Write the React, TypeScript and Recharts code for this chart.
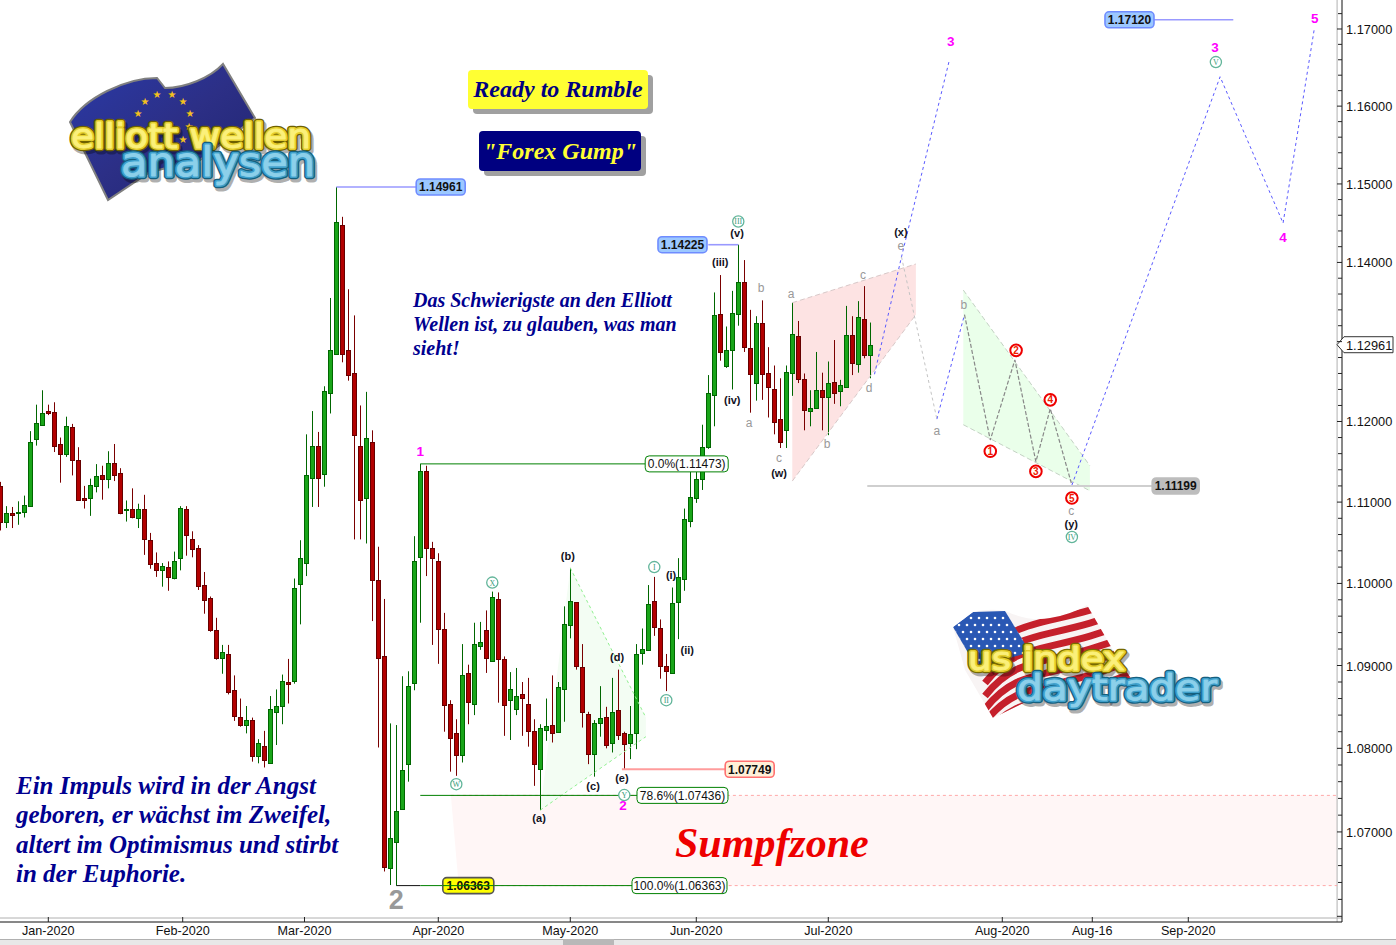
import { Area, Bar, ComposedChart, Line, ReferenceDot, ReferenceLine, XAxis, YAxis } from "recharts";

const opens = [
  1.1120, 1.1076, 1.1086, 1.1086, 1.1088, 1.1095, 1.1178, 1.1196, 1.1213, 1.1212,
  1.1172, 1.1159, 1.1193, 1.1152, 1.1105, 1.1105, 1.1120, 1.1133, 1.1128, 1.1148,
  1.1136, 1.1091, 1.1091, 1.1080, 1.1091, 1.1053, 1.1025, 1.1017, 1.1020, 1.1007,
  1.1031, 1.1091, 1.1055, 1.1043, 1.0998, 1.0982, 1.0943, 1.0909, 1.0914, 1.0870,
  1.0838, 1.0828, 1.0834, 1.0791, 1.0803, 1.0782, 1.0844, 1.0851, 1.0880, 1.0881,
  1.0999, 1.1025, 1.1130, 1.1170, 1.1135, 1.1235, 1.1284, 1.1447, 1.1290, 1.1260,
  1.1169, 1.1105, 1.1175, 1.1004, 1.0912, 1.0657, 1.0688, 1.0727, 1.0781, 1.0879,
  1.1032, 1.1139, 1.1044, 1.1028, 1.0944, 1.0853, 1.0819, 1.0792, 1.0891, 1.0853,
  1.0924, 1.0943, 1.0906, 1.0981, 1.0908, 1.0858, 1.0847, 1.0865, 1.0854, 1.0821,
  1.0775, 1.0822, 1.0828, 1.0820, 1.0872, 1.0949, 1.0977, 1.0898, 1.0841, 1.0793,
  1.0830, 1.0838, 1.0806, 1.0846, 1.0818, 1.0806, 1.0818, 1.0915, 1.0919, 1.0979,
  1.0945, 1.0899, 1.0891, 1.0977, 1.1005, 1.1077, 1.1105, 1.1129, 1.1168, 1.1233,
  1.1335, 1.1270, 1.1289, 1.1335, 1.1375, 1.1292, 1.1248, 1.1323, 1.1260, 1.1240,
  1.1203, 1.1189, 1.1260, 1.1307, 1.1253, 1.1213, 1.1217, 1.1239, 1.1230, 1.1249,
  1.1238, 1.1243, 1.1308, 1.1272, 1.1329, 1.1283,
];
const highs = [
  1.1125, 1.1095, 1.1094, 1.1101, 1.1108, 1.1188, 1.1221, 1.1239, 1.1221, 1.1224,
  1.1180, 1.1206, 1.1197, 1.1168, 1.1120, 1.1129, 1.1147, 1.1145, 1.1163, 1.1172,
  1.1142, 1.1102, 1.1117, 1.1098, 1.1109, 1.1062, 1.1038, 1.1025, 1.1027, 1.1039,
  1.1095, 1.1095, 1.1064, 1.1047, 1.1014, 1.0984, 1.0958, 1.0925, 1.0925, 1.0888,
  1.0860, 1.0851, 1.0837, 1.0811, 1.0821, 1.0863, 1.0871, 1.0889, 1.0908, 1.1006,
  1.1053, 1.1184, 1.1213, 1.1187, 1.1244, 1.1355, 1.14961, 1.1458, 1.1366, 1.1333,
  1.1220, 1.1237, 1.1189, 1.1045, 1.0981, 1.0830, 1.0828, 1.0887, 1.0893, 1.1058,
  1.11473, 1.1145, 1.1051, 1.1037, 1.0964, 1.0858, 1.0835, 1.0926, 1.0901, 1.0952,
  1.0953, 1.0967, 1.0990, 1.0989, 1.0911, 1.0892, 1.0897, 1.0880, 1.0885, 1.0835,
  1.0829, 1.0860, 1.0888, 1.0880, 1.0972, 1.1019, 1.0977, 1.0926, 1.0844, 1.0834,
  1.0875, 1.0850, 1.0885, 1.0895, 1.0820, 1.0851, 1.0926, 1.0945, 1.0998, 1.1008,
  1.0956, 1.0914, 1.0995, 1.1031, 1.1092, 1.1140, 1.1140, 1.1196, 1.1258, 1.1362,
  1.1384, 1.1319, 1.1364, 1.14225, 1.1403, 1.1340, 1.1332, 1.1352, 1.1293, 1.1270,
  1.1254, 1.1270, 1.1349, 1.1326, 1.1260, 1.1239, 1.1287, 1.1261, 1.1275, 1.1302,
  1.1252, 1.1345, 1.1332, 1.1351, 1.1370, 1.1324,
];
const lows = [
  1.1065, 1.1068, 1.1068, 1.1072, 1.1081, 1.1094, 1.1170, 1.1196, 1.1208, 1.1162,
  1.1124, 1.1156, 1.1133, 1.1103, 1.1092, 1.1083, 1.1112, 1.1103, 1.1117, 1.1126,
  1.1085, 1.1076, 1.1080, 1.1068, 1.1035, 1.1018, 1.1008, 1.0996, 1.0991, 1.1005,
  1.1016, 1.1034, 1.1032, 1.0992, 1.0963, 1.0941, 1.0907, 1.0890, 1.0865, 1.0833,
  1.0826, 1.0818, 1.0784, 1.0782, 1.0777, 1.0782, 1.0804, 1.0829, 1.0854, 1.0878,
  1.0950, 1.1009, 1.1094, 1.1094, 1.1119, 1.1210, 1.1284, 1.1274, 1.1251, 1.1054,
  1.1054, 1.1049, 1.0954, 1.0801, 1.0653, 1.0637, 1.06363, 1.0727, 1.0760, 1.0870,
  1.0952, 1.1009, 1.0925, 1.0902, 1.0820, 1.0772, 1.0767, 1.0783, 1.0829, 1.0840,
  1.0919, 1.0891, 1.0906, 1.0855, 1.0815, 1.0810, 1.0840, 1.0815, 1.0802, 1.0755,
  1.0726, 1.0809, 1.0807, 1.0819, 1.0832, 1.0933, 1.0895, 1.0825, 1.0781, 1.0766,
  1.0814, 1.0800, 1.0795, 1.0810, 1.07749, 1.0787, 1.0799, 1.0901, 1.0919, 1.0936,
  1.0884, 1.0869, 1.0891, 1.0932, 1.0991, 1.1069, 1.1099, 1.1115, 1.1166, 1.1194,
  1.1276, 1.1267, 1.1240, 1.1320, 1.1287, 1.1211, 1.1226, 1.1227, 1.1205, 1.1184,
  1.1167, 1.1167, 1.1232, 1.1248, 1.1189, 1.1194, 1.1217, 1.1189, 1.1183, 1.1222,
  1.1219, 1.1243, 1.1258, 1.1261, 1.1279, 1.1254,
];
const closes = [
  1.1075, 1.1087, 1.1084, 1.1088, 1.1096, 1.1174, 1.1198, 1.1210, 1.1211, 1.1170,
  1.1159, 1.1194, 1.1152, 1.1103, 1.1103, 1.1121, 1.1132, 1.1128, 1.1148, 1.1133,
  1.1087, 1.1092, 1.1081, 1.1091, 1.1054, 1.1024, 1.1017, 1.1021, 1.1008, 1.1028,
  1.1093, 1.1059, 1.1042, 1.0997, 1.0980, 1.0943, 1.0909, 1.0916, 1.0868, 1.0839,
  1.0828, 1.0834, 1.0791, 1.0807, 1.0786, 1.0847, 1.0851, 1.0881, 1.0878, 1.0995,
  1.1031, 1.1134, 1.1170, 1.1130, 1.1238, 1.1289, 1.1451, 1.1284, 1.1258, 1.1183,
  1.1102, 1.1180, 1.1004, 1.0909, 1.0658, 1.0693, 1.0725, 1.0774, 1.0875, 1.1027,
  1.1139, 1.1043, 1.1031, 1.0944, 1.0852, 1.0812, 1.0792, 1.0888, 1.0856, 1.0926,
  1.0928, 1.0909, 1.0984, 1.0908, 1.0852, 1.0872, 1.0863, 1.0861, 1.0821, 1.0781,
  1.0824, 1.0827, 1.0818, 1.0874, 1.0950, 1.0979, 1.0900, 1.0844, 1.0793, 1.0830,
  1.0837, 1.0804, 1.0844, 1.0816, 1.0805, 1.0817, 1.0914, 1.0920, 1.0975, 1.0947,
  1.0899, 1.0893, 1.0976, 1.1008, 1.1079, 1.1106, 1.1129, 1.1168, 1.1235, 1.1333,
  1.1287, 1.1289, 1.1336, 1.1375, 1.1293, 1.1259, 1.1324, 1.1259, 1.1243, 1.1199,
  1.1175, 1.1262, 1.1309, 1.1253, 1.1214, 1.1217, 1.1239, 1.1230, 1.1248, 1.1235,
  1.1245, 1.1308, 1.1273, 1.1331, 1.1283, 1.12961,
];

const monthTicks = [8, 30.4, 50.7, 73, 95, 116, 138, 167, 182, 198];
const monthLabels = ["Jan-2020", "Feb-2020", "Mar-2020", "Apr-2020", "May-2020", "Jun-2020", "Jul-2020", "Aug-2020", "Aug-16", "Sep-2020"];
const lastPrice = 1.12961;

// wave projections, [bar slot, price]
const blueUp = [[145.7, 1.1259], [150.2, 1.1407], [158.1, 1.1657]];
const greyDown = [[150.2, 1.1407], [156.1, 1.1203]];
const blueB = [[156.1, 1.1203], [160.7, 1.1334]];
const greyImpulse = [[160.7, 1.1334], [165, 1.1177], [169.1, 1.1277], [172.6, 1.115], [175, 1.1216], [178.6, 1.1121]];
const blueFinal = [[178.6, 1.1121], [203.3, 1.1638], [213.8, 1.145], [219, 1.17]];

// shaded wedges, [bar slot, lower, upper]
const wedgeMay = [[90, 1.0726, 1.0726], [95, 1.0751, 1.1019], [107.6, 1.0814, 1.0837]];
const wedgeJul = [[132, 1.1126, 1.1349], [152.6, 1.1334, 1.1398]];
const wedgeAug = [[160.5, 1.1196, 1.1365], [181.6, 1.1114, 1.1145]];
const swamp = [[75.1, 1.07436, 1.07436], [76.4, 1.06363, 1.07436], [222.8, 1.06363, 1.07436]];

// level lines, [from slot, to slot, price, colour, width]
const levels: [number, number, number, string, number][] = [
  [56, 69.3, 1.14961, "#9999ff", 1.6],
  [123, 118, 1.14225, "#9999ff", 1.6],
  [185, 205.5, 1.1712, "#9999ff", 1.6],
  [144.5, 192, 1.11199, "#cfcfcf", 2],
  [103.6, 121, 1.07749, "#ff9c9c", 2],
  [70, 107.5, 1.11473, "#008000", 1],
  [70, 106.2, 1.07436, "#008000", 1],
  [66, 70, 1.06363, "#111111", 1],
  [70, 105.4, 1.06363, "#008000", 1],
];

const priceTags = [
  { x: 73.4, p: 1.14961, t: "1.14961", w: 49, fill: "#9cc8ff", stroke: "#6f8cff" },
  { x: 113.7, p: 1.14225, t: "1.14225", w: 49, fill: "#9cc8ff", stroke: "#6f8cff" },
  { x: 188.2, p: 1.1712, t: "1.17120", w: 49, fill: "#9cc8ff", stroke: "#6f8cff" },
  { x: 195.9, p: 1.11199, t: "1.11199", w: 47, fill: "#bdbdbd", stroke: "#bdbdbd" },
  { x: 124.9, p: 1.07749, t: "1.07749", w: 49, fill: "#fff0d8", stroke: "#ff7070" },
  { x: 78, p: 1.06363, t: "1.06363", w: 51, fill: "#ffff00", stroke: "#555555", strike: true },
];
const fibTags = [
  { x: 114.4, p: 1.11473, t: "0.0%(1.11473)", w: 83 },
  { x: 113.7, p: 1.07436, t: "78.6%(1.07436)", w: 91 },
  { x: 113.2, p: 1.06363, t: "100.0%(1.06363)", w: 95 },
];

const magentaLabels = [
  { x: 158.4, p: 1.1684, t: "3" }, { x: 202.45, p: 1.1677, t: "3" }, { x: 213.8, p: 1.1432, t: "4" },
  { x: 219.1, p: 1.1714, t: "5" }, { x: 70, p: 1.1163, t: "1" }, { x: 103.8, p: 1.0732, t: "2" },
];
const circledLabels = [
  { x: 123, p: 1.1452, t: "III" }, { x: 82, p: 1.1001, t: "X" }, { x: 76, p: 1.0757, t: "W" },
  { x: 104, p: 1.0744, t: "Y" }, { x: 109, p: 1.102, t: "I" }, { x: 111, p: 1.0858, t: "II" },
  { x: 178.6, p: 1.1057, t: "IV" }, { x: 202.6, p: 1.1657, t: "V" },
];
const boldLabels = [
  { x: 89.8, p: 1.0716, t: "(a)" }, { x: 94.6, p: 1.1034, t: "(b)" }, { x: 98.8, p: 1.0755, t: "(c)" },
  { x: 102.8, p: 1.091, t: "(d)" }, { x: 103.6, p: 1.0764, t: "(e)" }, { x: 111.8, p: 1.101, t: "(i)" },
  { x: 114.5, p: 1.0919, t: "(ii)" }, { x: 120, p: 1.14, t: "(iii)" }, { x: 122, p: 1.1227, t: "(iv)" },
  { x: 122.8, p: 1.1437, t: "(v)" }, { x: 129.8, p: 1.1136, t: "(w)" }, { x: 150.1, p: 1.1439, t: "(x)" },
  { x: 178.5, p: 1.1073, t: "(y)" },
];
const greyLabels = [
  { x: 124.8, p: 1.1199, t: "a" }, { x: 126.8, p: 1.1368, t: "b" }, { x: 129.8, p: 1.1155, t: "c" },
  { x: 131.8, p: 1.1361, t: "a" }, { x: 137.8, p: 1.1172, t: "b" }, { x: 143.8, p: 1.1385, t: "c" },
  { x: 144.8, p: 1.1242, t: "d" }, { x: 150.1, p: 1.1421, t: "e" }, { x: 156.1, p: 1.1188, t: "a" },
  { x: 160.6, p: 1.1346, t: "b" }, { x: 178.5, p: 1.1089, t: "c" },
];
const redLabels = [
  { x: 165, p: 1.1163, t: "1" }, { x: 169.3, p: 1.1289, t: "2" }, { x: 172.6, p: 1.1138, t: "3" },
  { x: 175, p: 1.1227, t: "4" }, { x: 178.6, p: 1.1105, t: "5" },
];

const candles = opens.map((open, i) => ({
  x: i,
  open,
  close: closes[i],
  high: highs[i],
  low: lows[i],
  range: [lows[i], highs[i]],
}));

const priceTicks: number[] = [lastPrice];
for (let i = 530; i <= 586; i++) priceTicks.push(i * 2 / 1000);

const SANS = "'Liberation Sans', Arial, sans-serif";
const SERIF = "'Liberation Serif', 'Times New Roman', serif";
const pathData = (pts: number[][]) => pts.map(([x, p]) => ({ x, p }));
const wedgeData = (pts: number[][]) => pts.map(([x, lo, hi]) => ({ x, band: [lo, hi] }));
const edge = (pts: number[][], idx: number) => pts.map((r) => ({ x: r[0], p: r[idx] }));

function Candle(props: any) {
  const { x, y, width, height, payload } = props;
  const { open, close, high, low } = payload;
  const cx = Math.floor(x + width / 2);
  const perLog = height / Math.log(high / low);
  const top = Math.round(y + Math.log(high / Math.max(open, close)) * perLog);
  const bottom = Math.round(y + Math.log(high / Math.min(open, close)) * perLog);
  const up = close >= open;
  const wick = up ? "#006600" : "#7a0000";
  return (
    <g>
      <line x1={cx + 0.5} x2={cx + 0.5} y1={y} y2={y + height} stroke={wick} strokeWidth={1} />
      <rect
        x={cx - 1.5}
        y={top + 0.5}
        width={4}
        height={Math.max(bottom - top, 1)}
        fill={up ? "#19a519" : "#b20000"}
        stroke={up ? "#006600" : "#660000"}
        strokeWidth={1}
      />
    </g>
  );
}

function PriceTick(props: any) {
  const { x, y, payload } = props;
  const v = payload.value;
  if (v === lastPrice) {
    return (
      <g>
        <path
          d={`M${x - 5},${y} L${x + 2},${y - 8} H${x + 51} V${y + 8} H${x + 2} Z`}
          fill="#ffffff"
          stroke="#333333"
        />
        <text x={x + 4} y={y + 5} fontSize={12.8} fontFamily={SANS} fill="#111">
          {v.toFixed(5)}
        </text>
      </g>
    );
  }
  const major = Math.round(v * 1000) % 10 === 0;
  return (
    <g>
      <line x1={major ? x - 5 : x - 4} x2={x} y1={y} y2={y} stroke="#222" />
      {major && Math.abs(v - 1.13) > 0.0001 && v > 1.065 && (
        <text x={x + 4} y={y + 5} fontSize={12.8} fontFamily={SANS} fill="#111">
          {v.toFixed(5)}
        </text>
      )}
    </g>
  );
}

function MonthTick(props: any) {
  const { x, y, payload } = props;
  const label = monthLabels[monthTicks.indexOf(payload.value)];
  return (
    <g>
      <line x1={x} x2={x} y1={y - 5} y2={y} stroke="#222" />
      <text x={x} y={y + 13} textAnchor="middle" fontSize={12.6} fontFamily={SANS} fill="#111">
        {label}
      </text>
    </g>
  );
}

const tagShape = (tag: any) => (p: any) => (
  <g>
    <rect x={p.cx - tag.w / 2} y={p.cy - 8} width={tag.w} height={16} rx={4} fill={tag.fill} stroke={tag.stroke} strokeWidth={1.6} />
    <text x={p.cx} y={p.cy + 4.3} textAnchor="middle" fontSize={12} fontWeight="bold" fontFamily={SANS} fill="#111">
      {tag.t}
    </text>
    {tag.strike && <line x1={p.cx - tag.w / 2} x2={p.cx + tag.w / 2} y1={p.cy} y2={p.cy} stroke="#008000" />}
  </g>
);
const fibShape = (tag: any) => (p: any) => (
  <g>
    <rect x={p.cx - tag.w / 2} y={p.cy - 8} width={tag.w} height={16} rx={4} fill="#ffffff" stroke="#008000" />
    <text x={p.cx} y={p.cy + 4.3} textAnchor="middle" fontSize={12} fontFamily={SANS} fill="#111">
      {tag.t}
    </text>
  </g>
);
const textShape = (t: string, color: string, size: number, weight: string) => (p: any) => (
  <text x={p.cx} y={p.cy + size * 0.36} textAnchor="middle" fontSize={size} fontWeight={weight} fontFamily={SANS} fill={color}>
    {t}
  </text>
);
const circledShape = (t: string) => (p: any) => (
  <g>
    <circle cx={p.cx} cy={p.cy} r={5.6} fill="#ffffff" stroke="#62b59a" strokeWidth={1.3} />
    <text x={p.cx} y={p.cy + 2.9} textAnchor="middle" fontSize={8} fontFamily={SERIF} fill="#3a9c7c">
      {t}
    </text>
  </g>
);
const redShape = (t: string) => (p: any) => (
  <g>
    <circle cx={p.cx} cy={p.cy} r={5.8} fill="#ffffff" stroke="#ee0000" strokeWidth={2} />
    <text x={p.cx} y={p.cy + 3.5} textAnchor="middle" fontSize={10} fontWeight="bold" fontFamily={SANS} fill="#ee2000">
      {t}
    </text>
  </g>
);

function GlossText({ id, x, y, size, len, text, dark, mid, light }: any) {
  return (
    <g strokeLinejoin="round">
      <defs>
        <text id={id} x={x} y={y} fontSize={size} textLength={len} lengthAdjust="spacingAndGlyphs" fontFamily="'DejaVu Sans', sans-serif">
          {text}
        </text>
      </defs>
      <use href={`#${id}`} x={2} y={3} fill="none" stroke="#00000050" strokeWidth={7} />
      <use href={`#${id}`} fill={dark} stroke={dark} strokeWidth={6.5} />
      <use href={`#${id}`} fill={mid} stroke={mid} strokeWidth={4} />
      <use href={`#${id}`} fill={light} stroke={light} strokeWidth={0.8} />
    </g>
  );
}

const euStars = [[157, 98], [172, 98], [183, 105], [190, 117], [145, 105], [183, 143], [138, 117], [189, 130]];
const usStripes = [612, 625, 638, 651, 664, 677, 690, 703, 716];
const usStarRows = [618, 625, 632, 639, 646, 653, 660, 667];
const usStarCols = [955, 963, 971, 979, 987, 995, 1003, 1011, 1019];

function Logos() {
  return (
    <svg width={1396} height={945} style={{ position: "absolute", left: 0, top: 0, pointerEvents: "none" }}>
      <defs>
        <linearGradient id="eu" x1="0" y1="0" x2="1" y2="1">
          <stop offset="0" stopColor="#2a3aa8" />
          <stop offset="0.5" stopColor="#2c2f86" />
          <stop offset="1" stopColor="#20246e" />
        </linearGradient>
        <clipPath id="usFlag">
          <path d="M953,627 L973,612 Q990,608 1005,611 Q1030,622 1050,618 Q1070,615 1087,605 L1117,657 L1132,680 Q1085,682 1040,695 L993,718 L965,670 Z" />
        </clipPath>
        <clipPath id="usCanton">
          <path d="M953,627 L973,612 L1005,611 L1030,652 L977,668 Z" />
        </clipPath>
      </defs>
      <path
        d="M70,122 C85,98 125,78 157,78 L165,88 C185,88 210,78 223,64 L255,118 L200,160 L150,172 L108,200 Z"
        fill="url(#eu)"
        stroke="#808080"
        strokeWidth={2}
      />
      {euStars.map(([x, y], i) => (
        <text key={i} x={x} y={y} fontSize={10} textAnchor="middle" fill="#f4c01c" fontFamily="'DejaVu Sans'">★</text>
      ))}
      <GlossText id="lg1" x={71} y={148} size={34} len={240} text="elliott wellen" dark="#6d6000" mid="#e3cd2e" light="#fbf07a" />
      <GlossText id="lg2" x={121} y={176} size={40} len={194} text="analysen" dark="#14607f" mid="#3f9fca" light="#8cd0ea" />

      <g clipPath="url(#usFlag)">
        <rect x={950} y={600} width={190} height={125} fill="#f8f4f4" />
        {usStripes.map((y, i) => (
          <path
            key={i}
            d={`M985,${y + 45} C1020,${y} 1050,${y + 18} 1135,${y - 18}`}
            fill="none"
            stroke="#c5202b"
            strokeWidth={7}
          />
        ))}
        <path d="M953,627 L973,612 L1005,611 L1030,652 L977,668 Z" fill="#2a58b4" />
      </g>
      <g clipPath="url(#usCanton)">
        {usStarRows.map((y, r) =>
          usStarCols.map((x) => <circle key={`${x}-${y}`} cx={x + (r % 2) * 4} cy={y} r={1.3} fill="#ffffff" />),
        )}
      </g>
      <GlossText id="lg3" x={968} y={670} size={32} len={157} text="us index" dark="#776a00" mid="#e3cd2e" light="#fbf07a" />
      <GlossText id="lg4" x={1017} y={700} size={36} len={200} text="daytrader" dark="#14607f" mid="#3f9fca" light="#8cd0ea" />
    </svg>
  );
}

const boxStyle = { position: "absolute", fontFamily: SERIF, fontWeight: "bold", fontStyle: "italic", whiteSpace: "nowrap" } as const;

function Notes() {
  return (
    <>
      <div style={{ ...boxStyle, left: 468, top: 70, width: 180, height: 39, background: "#ffff33", borderRadius: 4, boxShadow: "5px 5px 0 #a0a0a0", color: "#000080", fontSize: 24, lineHeight: "39px", textAlign: "center" }}>
        Ready to Rumble
      </div>
      <div style={{ ...boxStyle, left: 479, top: 131, width: 162, height: 40, background: "#000080", borderRadius: 4, boxShadow: "5px 5px 0 #a0a0a0", color: "#ffff33", fontSize: 24, lineHeight: "40px", textAlign: "center" }}>
        "Forex Gump"
      </div>
      <div style={{ ...boxStyle, left: 413, top: 288, color: "#000090", fontSize: 20, lineHeight: "24px" }}>
        Das Schwierigste an den Elliott<br />Wellen ist, zu glauben, was man<br />sieht!
      </div>
      <div style={{ ...boxStyle, left: 16, top: 771, color: "#000090", fontSize: 25, lineHeight: "29.4px" }}>
        Ein Impuls wird in der Angst<br />geboren, er wächst im Zweifel,<br />altert im Optimismus und stirbt<br />in der Euphorie.
      </div>
      <div style={{ ...boxStyle, left: 675, top: 817, color: "#ee0000", fontSize: 42, lineHeight: "52px" }}>
        Sumpfzone
      </div>
      <div style={{ position: "absolute", left: 0, top: 939, width: 1396, height: 6, background: "#e8e8e8", borderTop: "1px solid #b0b0b0", boxSizing: "border-box" }} />
      <div style={{ position: "absolute", left: 563, top: 939, width: 51, height: 6, background: "#b8b8b8" }} />
    </>
  );
}

export default function App() {
  return (
    <div style={{ position: "absolute", left: 0, top: 0, width: 1396, height: 945, overflow: "hidden", background: "#fff" }}>
      <ComposedChart width={1396} height={945} margin={{ top: 0, right: 0, bottom: 0, left: 0 }} data={candles}>
        <XAxis
          dataKey="x"
          type="number"
          domain={[-0.05, 223.62]}
          ticks={monthTicks}
          interval={0}
          height={23}
          tick={<MonthTick />}
          tickLine={false}
          tickSize={0}
          tickMargin={0}
          axisLine={{ stroke: "#111" }}
          allowDataOverflow
        />
        <YAxis
          orientation="right"
          scale="log"
          domain={[1.05933, 1.17378]}
          ticks={priceTicks}
          interval={0}
          width={54}
          tick={<PriceTick />}
          tickLine={false}
          tickSize={0}
          tickMargin={0}
          axisLine={{ stroke: "#111" }}
          allowDataOverflow
        />

        <Area data={wedgeData(swamp)} dataKey="band" stroke="none" fill="#fff6f6" fillOpacity={1} isAnimationActive={false} dot={false} activeDot={false} />
        <Area data={wedgeData(wedgeMay)} dataKey="band" stroke="none" fill="#f3fdf3" fillOpacity={1} isAnimationActive={false} dot={false} activeDot={false} />
        <Area data={wedgeData(wedgeJul)} dataKey="band" stroke="none" fill="#fde3e3" fillOpacity={1} isAnimationActive={false} dot={false} activeDot={false} />
        <Area data={wedgeData(wedgeAug)} dataKey="band" stroke="none" fill="#eaffea" fillOpacity={1} isAnimationActive={false} dot={false} activeDot={false} />

        <ReferenceLine y={1.0598} stroke="#b0b0b0" />
        <ReferenceLine x={222.8} stroke="#b0b0b0" />

        <Bar data={candles} dataKey="range" barSize={5} shape={<Candle />} isAnimationActive={false} />

        <Line data={[{ x: 76.4, p: 1.06363 }, { x: 222.8, p: 1.06363 }]} dataKey="p" stroke="#ffa8a8" strokeDasharray="3 3" dot={false} activeDot={false} isAnimationActive={false} />
        <Line data={[{ x: 75.1, p: 1.07436 }, { x: 222.8, p: 1.07436 }]} dataKey="p" stroke="#ffa8a8" strokeDasharray="3 3" dot={false} activeDot={false} isAnimationActive={false} />
        <Line data={edge(wedgeMay, 2).slice(1)} dataKey="p" stroke="#90f090" strokeDasharray="3 3" dot={false} activeDot={false} isAnimationActive={false} />
        <Line data={edge(wedgeMay, 1)} dataKey="p" stroke="#90f090" strokeDasharray="3 3" dot={false} activeDot={false} isAnimationActive={false} />
        <Line data={edge(wedgeJul, 2)} dataKey="p" stroke="#d8c8c8" strokeDasharray="5 3" dot={false} activeDot={false} isAnimationActive={false} />
        <Line data={edge(wedgeJul, 1)} dataKey="p" stroke="#d8c8c8" strokeDasharray="5 3" dot={false} activeDot={false} isAnimationActive={false} />
        <Line data={edge(wedgeAug, 2)} dataKey="p" stroke="#c4d2c4" strokeDasharray="5 3" dot={false} activeDot={false} isAnimationActive={false} />
        <Line data={edge(wedgeAug, 1)} dataKey="p" stroke="#c4d2c4" strokeDasharray="5 3" dot={false} activeDot={false} isAnimationActive={false} />

        {[blueUp, blueB, blueFinal].map((pts, i) => (
          <Line key={i} data={pathData(pts)} dataKey="p" stroke="#5a5aff" strokeDasharray="3 3" dot={false} activeDot={false} isAnimationActive={false} />
        ))}
        <Line data={pathData(greyDown)} dataKey="p" stroke="#c4c4c4" strokeDasharray="3 3" dot={false} activeDot={false} isAnimationActive={false} />
        <Line data={pathData(greyImpulse)} dataKey="p" stroke="#888888" strokeWidth={1.2} strokeDasharray="4 2" dot={false} activeDot={false} isAnimationActive={false} />

        {levels.map(([from, to, price, color, w], i) => (
          <Line key={i} data={[{ x: from, p: price }, { x: to, p: price }]} dataKey="p" stroke={color} strokeWidth={w} dot={false} activeDot={false} isAnimationActive={false} />
        ))}

        {priceTags.map((tag) => (
          <ReferenceDot key={tag.t} x={tag.x} y={tag.p} shape={tagShape(tag)} />
        ))}
        {fibTags.map((tag) => (
          <ReferenceDot key={tag.t} x={tag.x} y={tag.p} shape={fibShape(tag)} />
        ))}
        {magentaLabels.map((l, i) => (
          <ReferenceDot key={`m${i}`} x={l.x} y={l.p} shape={textShape(l.t, "#ff00ff", 13.5, "bold")} />
        ))}
        <ReferenceDot x={66} y={1.062} shape={textShape("2", "#999999", 27, "bold")} />
        {circledLabels.map((l, i) => (
          <ReferenceDot key={`c${i}`} x={l.x} y={l.p} shape={circledShape(l.t)} />
        ))}
        {boldLabels.map((l, i) => (
          <ReferenceDot key={`b${i}`} x={l.x} y={l.p} shape={textShape(l.t, "#111122", 11, "bold")} />
        ))}
        {greyLabels.map((l, i) => (
          <ReferenceDot key={`g${i}`} x={l.x} y={l.p} shape={textShape(l.t, "#999999", 12, "normal")} />
        ))}
        {redLabels.map((l, i) => (
          <ReferenceDot key={`r${i}`} x={l.x} y={l.p} shape={redShape(l.t)} />
        ))}
      </ComposedChart>
      <Logos />
      <Notes />
    </div>
  );
}
